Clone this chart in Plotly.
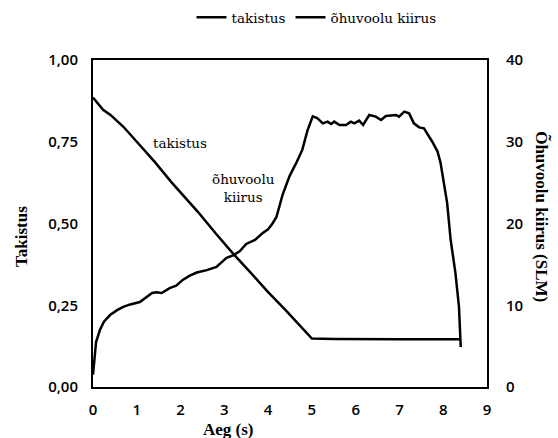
import plotly.graph_objects as go

# Takistus (left axis, 0..1)
tak_t = [0, 0.1, 0.23, 0.4, 0.7, 1.0, 1.4, 1.8, 2.4, 2.8, 3.2, 3.6, 4.0, 4.4, 4.7, 5.0,
         5.5, 6.0, 6.5, 7.0, 7.5, 8.0, 8.4]
tak_v = [0.885, 0.87, 0.848, 0.832, 0.795, 0.75, 0.69, 0.625, 0.535, 0.47, 0.408, 0.35,
         0.29, 0.235, 0.19, 0.148, 0.147, 0.146, 0.146, 0.146, 0.146, 0.146, 0.146]

# Õhuvoolu kiirus (right axis, SLM)
air_t = [0, 0.03, 0.07, 0.16, 0.25, 0.39, 0.55, 0.69, 0.85, 1.07, 1.2, 1.35, 1.45, 1.57,
         1.75, 1.9, 2.05, 2.2, 2.37, 2.6, 2.82, 2.95, 3.05, 3.2, 3.35, 3.5, 3.7, 3.87,
         4.0, 4.1, 4.19, 4.33, 4.49, 4.65, 4.78, 4.9, 5.02, 5.12, 5.25, 5.36, 5.44, 5.51,
         5.63, 5.78, 5.89, 5.97, 6.08, 6.17, 6.31, 6.46, 6.58, 6.69, 6.92, 6.99, 7.11,
         7.22, 7.33, 7.45, 7.56, 7.75, 7.87, 7.94, 8.02, 8.09, 8.17, 8.28, 8.36, 8.4]
air_v = [1.5, 3.5, 5.5, 7.0, 8.0, 8.8, 9.4, 9.8, 10.1, 10.4, 10.9, 11.5, 11.6, 11.5,
         12.1, 12.4, 13.1, 13.6, 14.0, 14.3, 14.7, 15.3, 15.8, 16.1, 16.6, 17.5, 18.0, 18.8,
         19.3, 20.0, 20.8, 23.5, 25.8, 27.5, 29.0, 31.4, 33.1, 32.9, 32.25, 32.46, 32.17, 32.46,
         32.05, 32.05, 32.46, 32.25, 32.58, 32.05, 33.27, 33.07, 32.66, 33.15, 33.27, 33.07, 33.68,
         33.47, 32.25, 31.76, 31.64, 30.0, 28.8, 27.4, 24.9, 22.5, 18.0, 13.9, 9.8, 4.9]

x_ticks = [0, 1, 2, 3, 4, 5, 6, 7, 8, 9]
y1_ticks = [0, 0.25, 0.5, 0.75, 1.0]
y1_text = ["0,00", "0,25", "0,50", "0,75", "1,00"]
y2_ticks = [0, 10, 20, 30, 40]

TITLE_FONT = dict(family="Liberation Serif", size=17, color="black", weight="bold")
TICK_FONT = dict(family="Open Sans", size=15, color="black", weight=600)
LABEL_FONT = dict(family="DejaVu Serif", size=13.5, color="black")

fig = go.Figure()
fig.add_trace(go.Scatter(x=tak_t, y=tak_v, mode="lines", name="takistus",
                         line=dict(color="black", width=2.5)))
fig.add_trace(go.Scatter(x=air_t, y=air_v, mode="lines", name="õhuvoolu kiirus",
                         yaxis="y2", line=dict(color="black", width=2.5)))

fig.update_layout(
    width=558, height=438,
    margin=dict(l=93, r=71, t=60, b=51, autoexpand=False),
    paper_bgcolor="white", plot_bgcolor="white",
    font=dict(family="DejaVu Serif", color="black", size=14),
    showlegend=True,
    legend=dict(orientation="h", x=0.25, xanchor="left", y=1.13, yanchor="middle",
                font=LABEL_FONT, itemwidth=30, tracegroupgap=0,
                bgcolor="rgba(0,0,0,0)"),
    xaxis=dict(range=[0, 9], tickvals=x_ticks, showgrid=False, zeroline=False,
               showline=True, linecolor="black", linewidth=2, mirror=True,
               ticks="", ticklabelstandoff=8, tickfont=TICK_FONT, automargin=False),
    yaxis=dict(range=[0, 1], tickvals=y1_ticks, ticktext=y1_text, showgrid=False,
               zeroline=False, showline=True, linecolor="black", linewidth=2,
               mirror=True, ticks="", ticklabelstandoff=10, tickfont=TICK_FONT,
               automargin=False),
    yaxis2=dict(range=[0, 40], tickvals=y2_ticks, overlaying="y", side="right",
                showgrid=False, zeroline=False, showline=False, ticks="",
                ticklabelstandoff=18, tickfont=TICK_FONT, automargin=False),
    annotations=[
        dict(text="Aeg (s)", xref="paper", yref="paper", x=0.344, y=-0.131,
             xanchor="center", yanchor="middle", showarrow=False, font=TITLE_FONT),
        dict(text="Takistus", xref="paper", yref="paper", x=-0.18, y=0.459,
             xanchor="center", yanchor="middle", textangle=-90, showarrow=False,
             font=TITLE_FONT),
        dict(text="Õhuvoolu kiirus (SLM)", xref="paper", yref="paper", x=1.139, y=0.52,
             xanchor="center", yanchor="middle", textangle=90, showarrow=False,
             font=TITLE_FONT),
        dict(text="takistus", xref="x", yref="y", x=1.98, y=0.746,
             xanchor="center", yanchor="middle", showarrow=False, font=LABEL_FONT),
        dict(text="õhuvoolu<br>kiirus", xref="x", yref="y", x=3.44, y=0.609,
             xanchor="center", yanchor="middle", showarrow=False, font=LABEL_FONT),
    ],
)

fig.write_html("out.html", config={"displayModeBar": False},
               post_script="document.body.style.margin='0';")
